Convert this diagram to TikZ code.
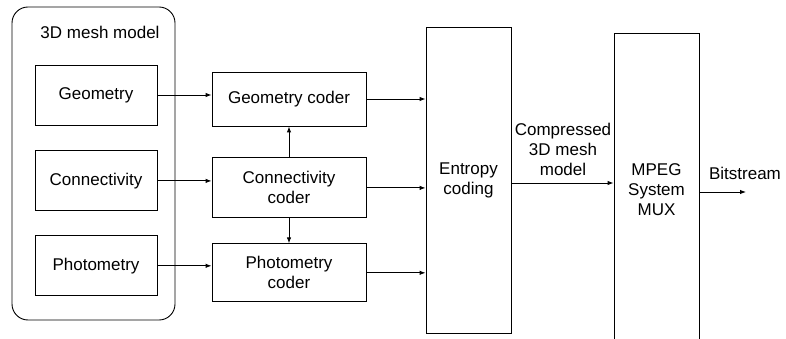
\documentclass[tikz,border=0pt]{standalone}
\usepackage{fontspec}
\setmainfont{Liberation Sans}
\usetikzlibrary{arrows.meta,positioning}

\begin{document}
\begin{tikzpicture}[
  x=1pt,y=-1pt,
  font=\fontsize{17}{20}\selectfont,
  line width=0.9pt,
  block/.style={draw,align=center,inner sep=2pt},
  src/.style={block,minimum width=122pt,minimum height=60pt},
  coder/.style={block,minimum width=154pt},
  tall/.style={block,minimum width=85pt},
  arrow/.style={-{Latex[length=6pt,width=4.5pt]}}
]
\useasboundingbox (0,0) rectangle (786,339);

% source model
\node[draw,rounded corners=16pt,minimum width=163pt,minimum height=313pt]
  (mesh) at (93.5,163.5) {};
\node (meshlbl) at (100,32) {3D mesh model};
\node[src] (geo) at (96,95) {Geometry};
\node[src,below=25pt of geo] (conn) {Connectivity};
\node[src,below=24pt of conn] (photo) {Photometry};

% coders
\node[coder,minimum height=54pt] (geocoder) at (289,99) {Geometry coder};
\node[coder,minimum height=60pt,below=31pt of geocoder] (conncoder)
  {Connectivity\\coder};
\node[coder,minimum height=58pt,below=25pt of conncoder] (photocoder)
  {Photometry\\coder};

\node[tall,minimum height=306pt] (entropy) at (468.5,180) {Entropy\\coding};
\node[tall,minimum height=314pt] (mpeg) at (656.5,190) {MPEG\\System\\MUX};
\node[align=center] (cmp) at (563,149) {Compressed\\3D mesh\\model};
\node (bits) at (745,173) {Bitstream};
\coordinate (bitend) at (746,192);

\draw[arrow] (geo.east) -- (geo.east -| geocoder.west);
\draw[arrow] (conn.east) -- (conn.east -| conncoder.west);
\draw[arrow] (photo.east) -- (photo.east -| photocoder.west);
\draw[arrow] (conncoder.north) -- (geocoder.south);
\draw[arrow] (conncoder.south) -- (photocoder.north);

\draw[arrow] (geocoder.east) -- (geocoder.east -| entropy.west);
\draw[arrow] (conncoder.east) -- (conncoder.east -| entropy.west);
\draw[arrow] (photocoder.east) -- (photocoder.east -| entropy.west);
\draw[arrow] ([yshift=-3pt]entropy.east) -- ([yshift=-3pt]entropy.east -| mpeg.west);
\draw[arrow] (bitend -| mpeg.east) -- (bitend);
\end{tikzpicture}
\end{document}
